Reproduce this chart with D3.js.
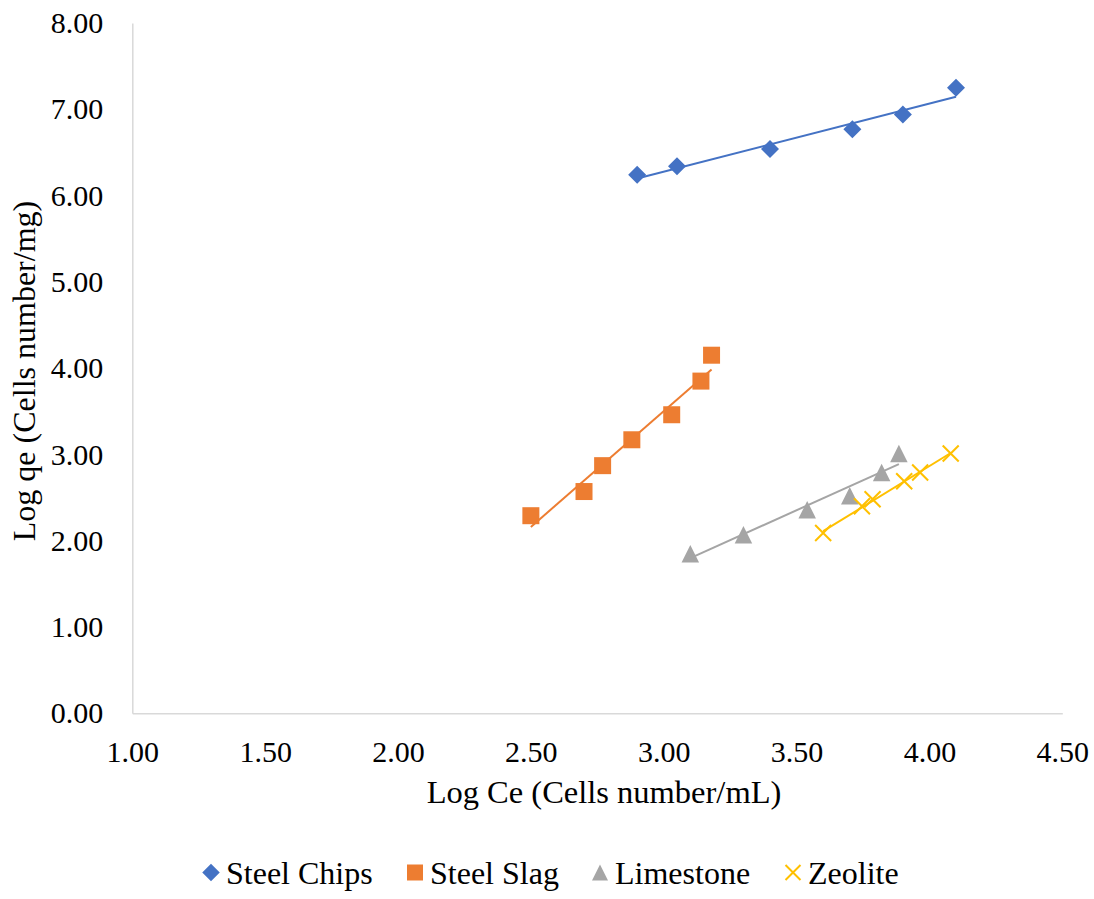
<!DOCTYPE html>
<html><head><meta charset="utf-8">
<script src="https://cdn.jsdelivr.net/npm/d3@7"></script>
<style>body{margin:0;background:#fff;}</style>
</head><body>
<svg id="c" width="1094" height="899"></svg>
<script>
const seriesNames = ["Steel Chips","Steel Slag","Limestone","Zeolite"];
const steelChipsX = [2.90, 3.05, 3.40, 3.71, 3.90, 4.10];
const steelChipsY = [6.24, 6.34, 6.54, 6.77, 6.94, 7.25];
const steelSlagX = [2.50, 2.70, 2.77, 2.88, 3.03, 3.14, 3.18];
const steelSlagY = [2.29, 2.57, 2.87, 3.17, 3.46, 3.85, 4.15];
const limestoneX = [3.10, 3.30, 3.54, 3.70, 3.82, 3.885];
const limestoneY = [1.85, 2.07, 2.36, 2.52, 2.79, 3.01];
const zeoliteX = [3.60, 3.746, 3.786, 3.905, 3.965, 4.08];
const zeoliteY = [2.09, 2.40, 2.48, 2.69, 2.79, 3.01];
const xTicks = [1.0,1.5,2.0,2.5,3.0,3.5,4.0,4.5];
const yTicks = [0,1,2,3,4,5,6,7,8];
const colors = ["#4472C4","#ED7D31","#A5A5A5","#FFC000"];
const symbols = ["diamond","square","triangle","x"];

const series = [
  {name:seriesNames[0], x:steelChipsX, y:steelChipsY},
  {name:seriesNames[1], x:steelSlagX, y:steelSlagY},
  {name:seriesNames[2], x:limestoneX, y:limestoneY},
  {name:seriesNames[3], x:zeoliteX, y:zeoliteY}
];

const FONT = "Liberation Serif, DejaVu Serif, serif";
const TICKFS = "30px", TITLEFS = "32.5px", LEGFS = "32px";
const svg = d3.select("#c");
const mLeft = 132.3, mRight = 1062.3, mTop = 23, mBottom = 713.3;
const x = d3.scaleLinear().domain([1,4.5]).range([mLeft,mRight]);
const y = d3.scaleLinear().domain([0,8]).range([mBottom,mTop]);

const xa = svg.append("g").attr("transform",`translate(0,${mBottom})`)
  .call(d3.axisBottom(x).tickValues(xTicks).tickFormat(d3.format(".2f")).tickSize(0).tickPadding(27));
xa.attr("font-family", FONT).attr("font-size", TICKFS);
xa.select(".domain").attr("stroke","#d9d9d9").attr("stroke-width",1.5);
xa.selectAll("text").attr("fill","#000").attr("dy","0.71em");
const ya = svg.append("g").attr("transform",`translate(${mLeft},0)`)
  .call(d3.axisLeft(y).tickValues(yTicks).tickFormat(d3.format(".2f")).tickSize(0).tickPadding(29));
ya.attr("font-family", FONT).attr("font-size", TICKFS);
ya.select(".domain").attr("stroke","#d9d9d9").attr("stroke-width",1.5);
ya.selectAll("text").attr("fill","#000");

svg.append("text").attr("x",604).attr("y",803).attr("text-anchor","middle")
  .attr("font-family",FONT).attr("font-size",TITLEFS).text("Log Ce (Cells number/mL)");
svg.append("text").attr("transform",`translate(35,371) rotate(-90)`).attr("text-anchor","middle")
  .attr("font-family",FONT).attr("font-size",LEGFS).text("Log qe (Cells number/mg)");

function symPath(type, size){
  if(type==="diamond") return d3.symbol(d3.symbolSquare, size*size/2)();
  if(type==="square") return d3.symbol(d3.symbolSquare, size*size)();
  const h=size/2;
  if(type==="triangle") return `M0,${-h}L${h},${h}L${-h},${h}Z`;
  return `M${-h},${-h}L${h},${h}M${-h},${h}L${h},${-h}`;
}
function drawMarker(g, type, color, size){
  const p = g.append("path").attr("d", symPath(type,size));
  if(type==="diamond") p.attr("transform","rotate(45)");
  if(type==="x") p.attr("fill","none").attr("stroke",color).attr("stroke-width",2);
  else p.attr("fill",color);
}
const markSize = {diamond:18, square:17, triangle:17.5, x:16};

series.forEach((s,i)=>{
  const pts = s.x.map((v,j)=>[v,s.y[j]]);
  const mx=d3.mean(s.x), my=d3.mean(s.y);
  const b = d3.sum(pts,p=>(p[0]-mx)*(p[1]-my))/d3.sum(pts,p=>(p[0]-mx)**2);
  const a = my - b*mx;
  const x0=d3.min(s.x), x1=d3.max(s.x);
  svg.append("line").attr("x1",x(x0)).attr("y1",y(a+b*x0)).attr("x2",x(x1)).attr("y2",y(a+b*x1))
    .attr("stroke",colors[i]).attr("stroke-width",2);
  pts.forEach(p=>{
    const g = svg.append("g").attr("transform",`translate(${x(p[0])},${y(p[1])})`);
    drawMarker(g, symbols[i], colors[i], markSize[symbols[i]]);
  });
});

const legX = [211, 415, 600, 793];
const legSize = {diamond:17.5, square:16, triangle:16, x:15};
series.forEach((s,i)=>{
  const g = svg.append("g").attr("transform",`translate(${legX[i]},872.5)`);
  drawMarker(g, symbols[i], colors[i], legSize[symbols[i]]);
  svg.append("text").attr("x",legX[i]+15).attr("y",872.5).attr("dy","0.35em")
    .attr("font-family",FONT).attr("font-size",LEGFS).text(s.name);
});
</script>
</body></html>
